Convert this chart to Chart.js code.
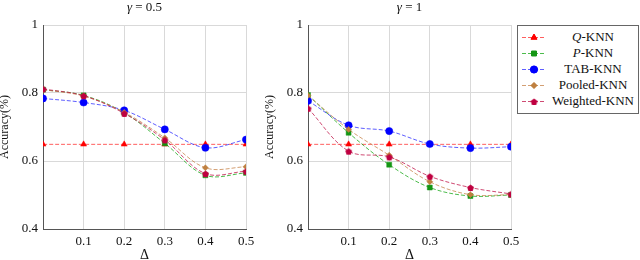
<!DOCTYPE html>
<html>
<head>
<meta charset="utf-8">
<script src="https://cdn.jsdelivr.net/npm/chart.js@4/dist/chart.umd.min.js"></script>
<style>
  html, body { margin: 0; padding: 0; background: #fff; overflow: hidden; }
  #wrap { position: relative; width: 640px; height: 260px; overflow: hidden; }
  .plot { position: absolute; top: 0; width: 262px; height: 266px; }
  #legend {
    position: absolute; left: 517px; top: 25px; width: 120px; height: 87px;
    border: 1px solid #666; background: #fff; font-size: 13px; color: #111;
  }
  .row { position: absolute; left: 0; width: 120px; height: 16px; }
  .row canvas { position: absolute; left: 4px; top: 2px; }
  .row span { position: absolute; left: 30px; right: 0; text-align: center; line-height: 16px; top: 0; white-space: nowrap; }
</style>
</head>
<body>
<div id="wrap">
  <div class="plot" style="left:0px"><canvas id="chartA"></canvas></div>
  <div class="plot" style="left:265px"><canvas id="chartB"></canvas></div>
  <div id="legend"></div>
</div>
<script>
// x positions (Delta)
var deltas = [0, 0.1, 0.2, 0.3, 0.4, 0.5];
var xTicks = [0.1, 0.2, 0.3, 0.4, 0.5];
var yTicks = [0.4, 0.6, 0.8, 1];

// gamma = 0.5
var qKnnA        = [0.649, 0.649, 0.649, 0.649, 0.649, 0.649];
var pKnnA        = [0.810, 0.793, 0.742, 0.652, 0.558, 0.565];
var tabKnnA      = [0.784, 0.772, 0.749, 0.693, 0.639, 0.663];
var pooledKnnA   = [0.810, 0.791, 0.743, 0.668, 0.580, 0.583];
var weightedKnnA = [0.812, 0.792, 0.740, 0.662, 0.563, 0.570];

// gamma = 1
var qKnnB        = [0.649, 0.649, 0.649, 0.649, 0.649, 0.649];
var pKnnB        = [0.794, 0.683, 0.589, 0.522, 0.497, 0.500];
var tabKnnB      = [0.777, 0.705, 0.688, 0.650, 0.638, 0.642];
var pooledKnnB   = [0.793, 0.693, 0.617, 0.539, 0.501, 0.501];
var weightedKnnB = [0.755, 0.629, 0.612, 0.555, 0.522, 0.503];

// find a Times-like font that is really installed
function pickSerif() {
  var c = document.createElement('canvas').getContext('2d');
  var probe = 'Weighted-KNN Accuracy 0.123';
  c.font = '40px monospace'; var wm = c.measureText(probe).width;
  c.font = '40px sans-serif'; var ws = c.measureText(probe).width;
  var cands = ['Liberation Serif', 'Times New Roman', 'Tinos', 'Times', 'Nimbus Roman', 'FreeSerif'];
  for (var i = 0; i < cands.length; i++) {
    c.font = '40px "' + cands[i] + '", monospace'; var a = c.measureText(probe).width;
    c.font = '40px "' + cands[i] + '", sans-serif'; var b = c.measureText(probe).width;
    if (a != wm || b != ws) return '"' + cands[i] + '", serif';
  }
  return 'serif';
}
var serif = pickSerif();
document.getElementById('legend').style.fontFamily = serif;
Chart.defaults.font.family = serif;

// pentagon marker for Weighted-KNN
function pentagon(color, r) {
  var c = document.createElement('canvas');
  c.width = r * 2 + 2; c.height = r * 2 + 2;
  var g = c.getContext('2d');
  g.fillStyle = color;
  g.beginPath();
  for (var i = 0; i < 5; i++) {
    var a = -Math.PI / 2 + i * 2 * Math.PI / 5;
    var px = r + 1 + r * Math.cos(a), py = r + 1 + r * Math.sin(a) + 0.5;
    if (i == 0) g.moveTo(px, py); else g.lineTo(px, py);
  }
  g.closePath();
  g.fill();
  return c;
}

var series = [
  { label: 'Q-KNN',        line: 'rgba(255,40,40,0.75)',  point: 'rgb(255,0,0)',   style: 'triangle', r: 3.5 },
  { label: 'P-KNN',        line: 'rgba(0,160,0,0.7)',     point: 'rgb(20,150,20)', style: 'rect',     r: 3.5 },
  { label: 'TAB-KNN',      line: 'rgba(40,40,255,0.75)',  point: 'rgb(0,0,255)',   style: 'circle',   r: 3.6 },
  { label: 'Pooled-KNN',   line: 'rgba(200,135,80,0.8)',  point: 'rgb(191,128,64)', style: 'rectRot', r: 3 },
  { label: 'Weighted-KNN', line: 'rgba(195,30,80,0.8)',   point: 'rgb(191,0,64)',  style: pentagon('rgb(191,0,64)', 3.6), r: 3.5 }
];

function pts(arr) {
  return deltas.map(function (d, i) { return { x: d, y: arr[i] }; });
}

function makeDatasets(values) {
  return series.map(function (s, i) {
    return {
      label: s.label,
      data: pts(values[i]),
      borderColor: s.line,
      borderWidth: 1,
      borderDash: [4, 2],
      backgroundColor: s.point,
      pointBackgroundColor: s.point,
      pointBorderColor: s.point,
      pointBorderWidth: 0.5,
      pointStyle: s.style,
      pointRadius: s.r,
      tension: 0.35,
      fill: false,
      order: series.length - i
    };
  });
}

var titlePlugin = {
  id: 'gammaTitle',
  afterDraw: function (chart, args, opts) {
    var ctx = chart.ctx, area = chart.chartArea;
    ctx.save();
    ctx.fillStyle = '#111';
    ctx.textBaseline = 'middle';
    ctx.font = 'italic 13px ' + serif;
    var g = 'γ';
    var wg = ctx.measureText(g).width;
    ctx.font = '13px ' + serif;
    var rest = ' = ' + opts.value;
    var wr = ctx.measureText(rest).width;
    var x0 = (area.left + area.right) / 2 - (wg + wr) / 2;
    ctx.font = 'italic 13px ' + serif;
    ctx.fillText(g, x0, 8);
    ctx.font = '13px ' + serif;
    ctx.fillText(rest, x0 + wg, 8);
    ctx.restore();
  }
};

function makeChart(id, values, gammaText) {
  return new Chart(document.getElementById(id), {
    type: 'line',
    data: { datasets: makeDatasets(values) },
    plugins: [titlePlugin],
    options: {
      responsive: true,
      maintainAspectRatio: false,
      animation: false,
      layout: { padding: { left: 0, right: 16, top: 25, bottom: 0 } },
      plugins: {
        legend: { display: false },
        tooltip: { enabled: false },
        gammaTitle: { value: gammaText }
      },
      scales: {
        x: {
          type: 'linear', min: 0, max: 0.5,
          afterBuildTicks: function (scale) {
            scale.ticks = xTicks.map(function (v) { return { value: v }; });
          },
          afterFit: function (scale) { scale.height = 37; },
          grid: { color: '#d9d9d9', lineWidth: 1, drawTicks: false },
          border: { display: true, color: '#555', width: 1 },
          ticks: {
            padding: 5, color: '#111', maxRotation: 0,
            font: { family: serif, size: 13 },
            callback: function (v) { return v.toFixed(1); }
          },
          title: {
            display: true, text: 'Δ', color: '#111',
            font: { family: serif, size: 14 }, padding: { top: 0, bottom: 2 }
          }
        },
        y: {
          type: 'linear', min: 0.4, max: 1,
          afterBuildTicks: function (scale) {
            scale.ticks = yTicks.map(function (v) { return { value: v }; });
          },
          afterFit: function (scale) { scale.width = 43; },
          grid: { color: '#d9d9d9', lineWidth: 1, drawTicks: false },
          border: { display: true, color: '#555', width: 1 },
          ticks: {
            padding: 5, color: '#111',
            font: { family: serif, size: 13 },
            callback: function (v) { return v == 1 ? '1' : v.toFixed(1); }
          },
          title: {
            display: true, text: 'Accuracy(%)', color: '#111',
            font: { family: serif, size: 12, lineHeight: 0.84 }, padding: { top: 0, bottom: 0 }
          }
        }
      }
    }
  });
}

makeChart('chartA', [qKnnA, pKnnA, tabKnnA, pooledKnnA, weightedKnnA], '0.5');
makeChart('chartB', [qKnnB, pKnnB, tabKnnB, pooledKnnB, weightedKnnB], '1');

// legend
var legend = document.getElementById('legend');
var names = ['<i>Q</i>-KNN', '<i>P</i>-KNN', 'TAB-KNN', 'Pooled-KNN', 'Weighted-KNN'];
series.forEach(function (s, i) {
  var row = document.createElement('div');
  row.className = 'row';
  row.style.top = (3 + i * 16) + 'px';
  var c = document.createElement('canvas');
  c.width = 24; c.height = 12;
  var g = c.getContext('2d');
  g.strokeStyle = s.line;
  g.lineWidth = 1;
  g.setLineDash([4, 2]);
  g.beginPath(); g.moveTo(0, 6.5); g.lineTo(24, 6.5); g.stroke();
  g.setLineDash([]);
  g.fillStyle = s.point; g.strokeStyle = s.point;
  if (typeof s.style !== 'string') {
    g.drawImage(s.style, 12 - s.style.width / 2, 6.5 - s.style.height / 2);
  } else {
    Chart.helpers.drawPoint(g, { pointStyle: s.style, radius: s.r, borderWidth: 0.5, rotation: 0 }, 12, 6.5);
    g.fill();
  }
  row.appendChild(c);
  var span = document.createElement('span');
  span.innerHTML = names[i];
  row.appendChild(span);
  legend.appendChild(row);
});
</script>
</body>
</html>
